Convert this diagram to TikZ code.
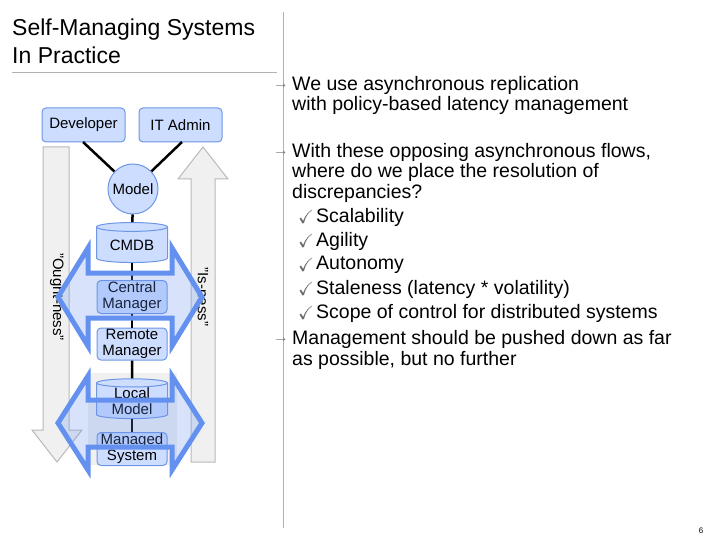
\documentclass[tikz,border=0pt]{standalone}
\usepackage{amssymb}
\usepackage{fontspec}
\setmainfont{Liberation Sans}
\usetikzlibrary{shapes.geometric}
\definecolor{nb}{RGB}{204,221,255}
\definecolor{nd}{RGB}{110,150,230}
\definecolor{ab}{RGB}{100,145,240}
\begin{document}
\begin{tikzpicture}[x=1pt,y=-1pt,
 box/.style={draw=nd,fill=nb,rounded corners=4pt,line width=1pt,font=\fontsize{15}{16}\selectfont,align=center,inner sep=0pt},
 cyl/.style={cylinder,shape border rotate=90,aspect=0.2,draw=nd,fill=nb,line width=1pt,font=\fontsize{15}{16}\selectfont,align=center,inner sep=0pt},
 con/.style={line width=2.5pt,black},
 garrow/.style={fill=gray!12,draw=gray!55,line width=1pt},
 barrow/.style={draw=ab,fill=ab,fill opacity=0.25,line width=5pt,line join=miter},
 txt/.style={anchor=west,font=\fontsize{19.5}{22}\selectfont,inner sep=0pt},
 arr/.style={anchor=east,font=\fontsize{16}{19}\selectfont,text=gray,inner sep=0pt}]
\useasboundingbox (0,0) rectangle (720,540);
% frame lines
\draw[gray!60,line width=0.8pt] (283,12) -- (283,528);
\draw[gray!60,line width=0.8pt] (12,72) -- (277,72);
\node[anchor=west,font=\fontsize{23}{28}\selectfont,align=left,inner sep=0] (title) at (12,41) {Self-Managing Systems\\In Practice};
% grey arrows
\fill[gray!12] (88,373) rectangle (177,465);
\draw[garrow] (43,147) -- (69,147) -- (69,430) -- (82,430) -- (57,462) -- (32,430) -- (43,430) -- cycle;
\draw[garrow] (191,462) -- (215,462) -- (215,179) -- (228,179) -- (203,147) -- (178,179) -- (191,179) -- cycle;
\node[rotate=-90,font=\fontsize{15}{16}\selectfont] (ought) at (57,297) {"Ought-ness"};
\node[rotate=-90,font=\fontsize{15}{16}\selectfont] (isness) at (203,297) {"Is-ness"};
% nodes
\node[box,minimum width=83,minimum height=34] (dev) at (83.5,125) {Developer};
\node[box,minimum width=83,minimum height=34] (ita) at (180.5,125) {IT Admin};
\node[circle,draw=nd,fill=nb,line width=1pt,minimum size=50,inner sep=0,font=\fontsize{15}{16}\selectfont] (model) at (133,189) {Model};
\node[cyl,minimum width=71,minimum height=40] (cmdb) at (132,245) {CMDB};
\node[box,minimum width=70,minimum height=33] (cm) at (132,297) {Central\\Manager};
\node[box,minimum width=70,minimum height=32] (rm) at (132,344) {Remote\\Manager};
\node[cyl,minimum width=71,minimum height=38] (lm) at (132,401) {Local\\Model};
\node[box,minimum width=70,minimum height=33] (ms) at (132,449) {Managed\\System};
\draw[con] (83,142) -- (model);
\draw[con] (182,142) -- (model);
\draw[con] (model) -- (cmdb);
\draw[con] (cmdb) -- (cm);
\draw[con] (cm) -- (rm);
\draw[con] (rm) -- (lm);
\draw[con] (lm) -- (ms);
% blue double arrows
\draw[barrow] (58,297) -- (88,248) -- (88,273) -- (172,273) -- (172,248) -- (202,297) -- (172,346) -- (172,318) -- (88,318) -- (88,346) -- cycle;
\draw[barrow] (58,423) -- (88,376) -- (88,400) -- (172,400) -- (172,376) -- (202,423) -- (172,470) -- (172,447) -- (88,447) -- (88,470) -- cycle;
% right text
\node[arr] (a1) at (289,86) {→};
\node[txt] (t1) at (292,85) {We use asynchronous replication};
\node[txt] (t1b) at (292,105) {with policy-based latency management};
\node[arr] (a2) at (289,153) {→};
\node[txt] (t2) at (292,152) {With these opposing asynchronous flows,};
\node[txt] (t2b) at (292,172) {where do we place the resolution of};
\node[txt] (t2c) at (292,193) {discrepancies?};
\foreach \y/\s [count=\i] in {217/Scalability,241/Agility,265/Autonomy,289/{Staleness (latency * volatility)},313/Scope of control for distributed systems}{
 \node[anchor=west,inner sep=0,text=gray!80!black,font=\fontsize{19}{20}\selectfont] (c\i) at (298,\y) {\checkmark};
 \node[txt] (s\i) at (316,\y) {\s};}
\node[arr] (a3) at (289,340) {→};
\node[txt] (t3) at (292,339) {Management should be pushed down as far};
\node[txt] (t3b) at (292,360) {as possible, but no further};
\node[font=\fontsize{8}{9}\selectfont] (pg) at (701,531) {6};
\end{tikzpicture}
\end{document}
